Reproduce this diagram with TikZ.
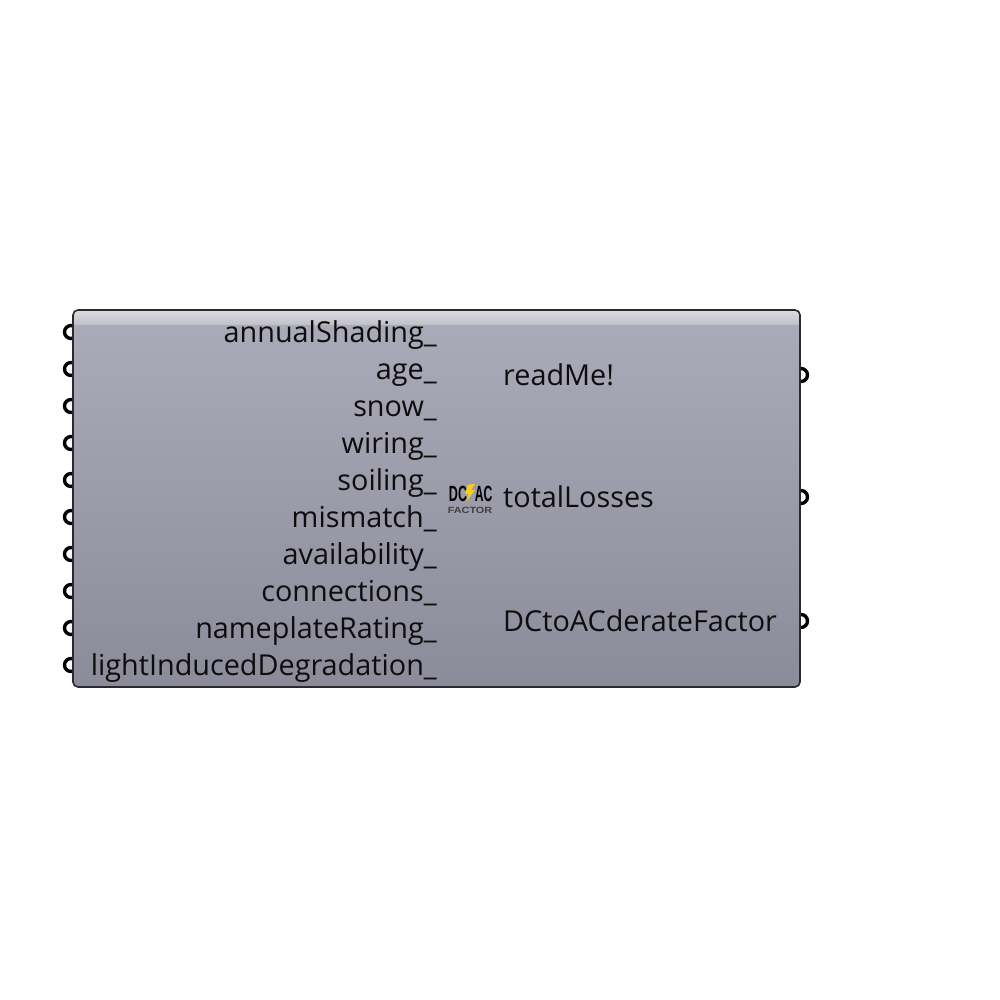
\documentclass[tikz,border=0pt]{standalone}
\usepackage{fontspec}
\setmainfont{Open Sans}
\newfontfamily\iconfont{Liberation Sans}
\definecolor{bodytop}{HTML}{ABABB9}
\definecolor{bodybot}{HTML}{8B8B99}
\definecolor{gloss}{HTML}{DADADF}
\definecolor{glossb}{HTML}{C0C0C9}
\definecolor{edge}{HTML}{2A2A2E}
\definecolor{bolt}{HTML}{F5CE1E}
\tikzset{
  port/.style={circle,draw=black,line width=3.4pt,fill=white,minimum size=13pt,inner sep=0pt},
  inlabel/.style={anchor=base east,inner sep=0pt,font=\fontsize{28.8}{29}\selectfont,text=black!95},
  outlabel/.style={anchor=base west,inner sep=0pt,font=\fontsize{28.8}{29}\selectfont,text=black!95},
}
\begin{document}
\begin{tikzpicture}[x=1pt,y=-1pt]
\useasboundingbox (0,0) rectangle (1000,1000);
\fill[white] (0,0) rectangle (1000,1000);
% ports
\foreach \n/\y in {a/332,b/369,c/406,d/443,e/480,f/517,g/554,h/591,i/628,j/665}
  \node[port] (p\n) at (71,\y) {};
\node[port] (q1) at (801,375) {};
\node[port] (q2) at (801,497) {};
\node[port] (q3) at (801,621) {};
% body
\fill[top color=bodytop,bottom color=bodybot,rounded corners=5pt] (73,310) rectangle (800,687);
\begin{scope}
\clip[rounded corners=5pt] (73,310) rectangle (800,687);
\fill[top color=gloss,bottom color=glossb] (73,311) rectangle (800,324.5);
\end{scope}
\draw[edge,line width=1.6pt,rounded corners=5pt] (73,310) rectangle (800,687);
% inputs
\node[inlabel] (ia) at (437,342) {annualShading\_};
\node[inlabel] (ib) at (437,379) {age\_};
\node[inlabel] (ic) at (437,416) {snow\_};
\node[inlabel] (id) at (437,453) {wiring\_};
\node[inlabel] (ie) at (437,490) {soiling\_};
\node[inlabel] (if) at (437,527) {mismatch\_};
\node[inlabel] (ig) at (437,564) {availability\_};
\node[inlabel] (ih) at (437,601) {connections\_};
\node[inlabel] (ii) at (437,638) {nameplateRating\_};
\node[inlabel] (ij) at (437,675) {lightInducedDegradation\_};
% outputs
\node[outlabel] (oa) at (503,385) {readMe!};
\node[outlabel] (ob) at (503,507) {totalLosses};
\node[outlabel] (oc) at (503,631) {DCtoACderateFactor};
% icon
\node[inner sep=0pt,anchor=base] (icdc) at (458,501) {\iconfont\bfseries\fontsize{22}{22}\selectfont\addfontfeature{FakeStretch=0.57}DC};
\node[inner sep=0pt,anchor=base] (icac) at (483.5,501) {\iconfont\bfseries\fontsize{22}{22}\selectfont\addfontfeature{FakeStretch=0.55}AC};
\fill[bolt] (475,484) -- (468,484.5) -- (465,494) -- (468.5,494) -- (466,501.5) -- (475,490) -- (471,490) -- cycle;
\node[inner sep=0pt,anchor=base] (icf) at (470,513.5) {\iconfont\bfseries\fontsize{9}{9}\selectfont\addfontfeature{FakeStretch=1.2}\textcolor{black!75}{FACTOR}};
\end{tikzpicture}
\end{document}
